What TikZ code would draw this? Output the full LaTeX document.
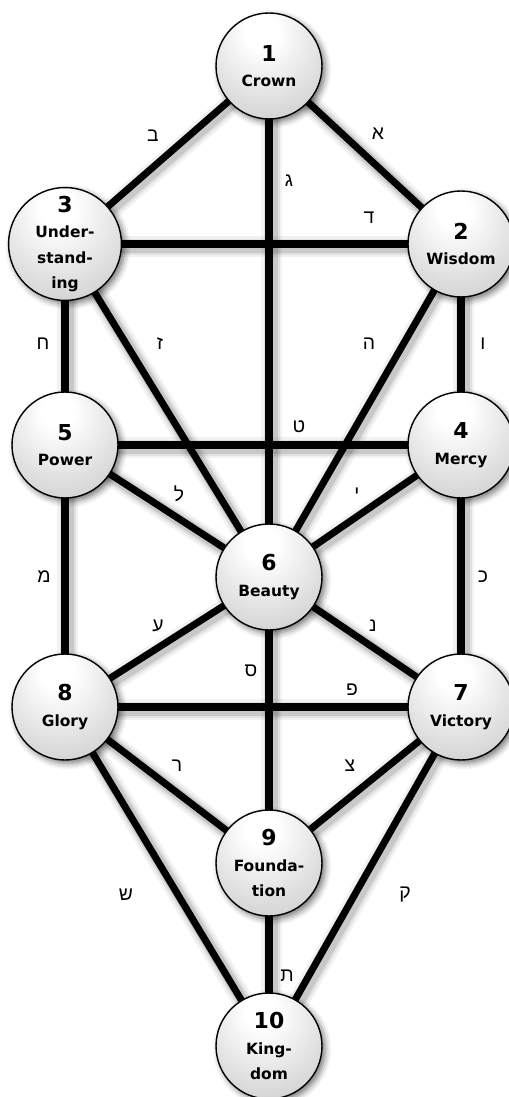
\documentclass[tikz,border=0pt]{standalone}
\usepackage{fontspec}
\setmainfont{DejaVu Sans}
\newfontfamily\hebfont[Script=Hebrew]{Liberation Sans}
\TeXXeTstate=1
\usetikzlibrary{shadows.blur}

\pgfdeclarelayer{background}
\pgfsetlayers{background,main}

% kugelschattierung, licht von oben
\pgfdeclareradialshading{sphere}{\pgfpoint{-4bp}{18bp}}{%
  color(0bp)=(white); color(8bp)=(white);
  color(35bp)=(black!17); color(55bp)=(black!34); color(72bp)=(black!44)}

\newcommand{\sefnum}[1]{{\fontsize{12.5}{15}\selectfont #1}}
\newcommand{\heb}[1]{{\hebfont\beginR #1\endR}}

\begin{document}
\begin{tikzpicture}[
  x=0.02cm, y=-0.02cm,
  sefira/.style={circle,draw=black,line width=0.8pt,minimum size=2.12cm,
                 inner sep=0pt,shading=sphere,align=center,
                 font=\bfseries\fontsize{8.8}{14.6}\selectfont,
                 blur shadow={shadow xshift=1.8pt,shadow yshift=-1.8pt,
                              shadow blur radius=3.5pt,shadow opacity=55}},
  pathline/.style={line width=4pt,black},
  pathshade/.style={line cap=round,black},
  lab/.style={font=\fontsize{11}{12}\selectfont}
]
\useasboundingbox (0,0) rectangle (509,1097);

% ---- Sefirot ----
\node[sefira] (crown)         at (269,66)   {\sefnum{1}\\Crown};
\node[sefira] (understanding) at (65,244)   {\sefnum{3}\\Under-\\stand-\\ing};
\node[sefira] (wisdom)        at (461,244)  {\sefnum{2}\\Wisdom};
\node[sefira] (power)         at (65,445)   {\sefnum{5}\\Power};
\node[sefira] (mercy)         at (461,445)  {\sefnum{4}\\Mercy};
\node[sefira] (beauty)        at (269,577)  {\sefnum{6}\\Beauty};
\node[sefira] (glory)         at (65,707)   {\sefnum{8}\\Glory};
\node[sefira] (victory)       at (461,707)  {\sefnum{7}\\Victory};
\node[sefira] (foundation)    at (269,863)  {\sefnum{9}\\Founda-\\tion};
\node[sefira] (kingdom)       at (269,1046) {\sefnum{10}\\King-\\dom};

% ---- Pfade (hinter den Kreisen) ----
\begin{pgfonlayer}{background}
\foreach \a/\b in {crown/wisdom,crown/understanding,crown/beauty,
    understanding/wisdom,wisdom/mercy,wisdom/beauty,
    understanding/power,understanding/beauty,power/mercy,
    mercy/beauty,mercy/victory,power/beauty,power/glory,
    beauty/victory,beauty/glory,beauty/foundation,glory/victory,
    victory/foundation,victory/kingdom,glory/foundation,
    glory/kingdom,foundation/kingdom}{
  % weicher schatten
  \foreach \w/\o in {12pt/0.05,9pt/0.07,6.5pt/0.11}
    \draw[pathshade,line width=\w,opacity=\o]
      ([xshift=1.6pt,yshift=-1.6pt]\a.center) -- ([xshift=1.6pt,yshift=-1.6pt]\b.center);
  \draw[pathline] (\a.center) -- (\b.center);
}
\end{pgfonlayer}

% ---- Buchstaben der Pfade ----
\node[lab] (alef)   at (378,134) {\heb{א}};
\node[lab] (bet)    at (153,136) {\heb{ב}};
\node[lab] (gimel)  at (289,181) {\heb{ג}};
\node[lab] (dalet)  at (369,218) {\heb{ד}};
\node[lab] (he)     at (369,344) {\heb{ה}};
\node[lab] (vav)    at (483,344) {\heb{ו}};
\node[lab] (zayin)  at (160,344) {\heb{ז}};
\node[lab] (chet)   at (43,344)  {\heb{ח}};
\node[lab] (tet)    at (299,427) {\heb{ט}};
\node[lab] (yod)    at (357,494) {\heb{י}};
\node[lab] (kaf)    at (483,577) {\heb{כ}};
\node[lab] (lamed)  at (179,494) {\heb{ל}};
\node[lab] (mem)    at (44,577)  {\heb{מ}};
\node[lab] (nun)    at (373,626) {\heb{נ}};
\node[lab] (samekh) at (251,671) {\heb{ס}};
\node[lab] (ayin)   at (158,626) {\heb{ע}};
\node[lab] (pe)     at (352,690) {\heb{פ}};
\node[lab] (tsadi)  at (350,766) {\heb{צ}};
\node[lab] (qof)    at (405,895) {\heb{ק}};
\node[lab] (resh)   at (177,766) {\heb{ר}};
\node[lab] (shin)   at (126,895) {\heb{ש}};
\node[lab] (tav)    at (287,976) {\heb{ת}};

\end{tikzpicture}
\end{document}
